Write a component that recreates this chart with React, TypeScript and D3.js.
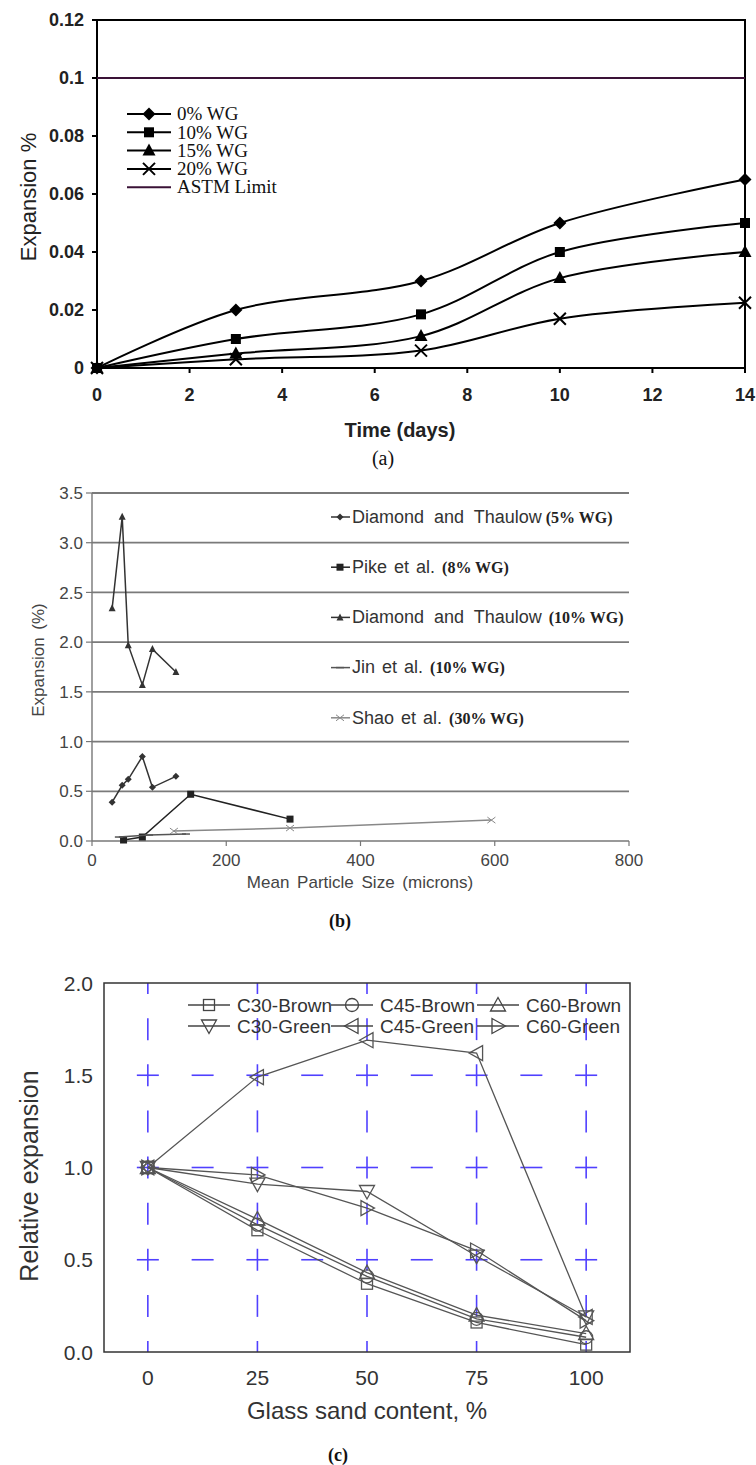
import React from 'react';
import * as d3 from 'd3';

// ---------- Panel (a) data ----------
const daysA = [0, 3, 7, 10, 14];
const wg0 = [0, 0.02, 0.03, 0.05, 0.065];
const wg10 = [0, 0.01, 0.0185, 0.04, 0.05];
const wg15 = [0, 0.005, 0.011, 0.031, 0.04];
const wg20 = [0, 0.003, 0.006, 0.017, 0.0225];
const astmLimit = 0.1;
const namesA = ['0% WG', '10% WG', '15% WG', '20% WG', 'ASTM Limit'];
const markersA = ['diamond', 'square', 'triangle', 'x', 'none'];
const xTicksA = [0, 2, 4, 6, 8, 10, 12, 14];
const yTicksA = [0, 0.02, 0.04, 0.06, 0.08, 0.1, 0.12];
const yTickLabelsA = ['0', '0.02', '0.04', '0.06', '0.08', '0.1', '0.12'];

// ---------- Panel (b) data ----------
const dt5X = [30, 45, 54, 75, 90, 125];
const dt5Y = [0.39, 0.56, 0.62, 0.85, 0.54, 0.65];
const pikeX = [47, 75, 147, 295];
const pikeY = [0.01, 0.04, 0.47, 0.22];
const dt10X = [30, 45, 54, 75, 90, 125];
const dt10Y = [2.34, 3.26, 1.97, 1.57, 1.93, 1.7];
const jinX = [40, 85, 140];
const jinY = [0.04, 0.06, 0.07];
const shaoX = [122, 295, 595];
const shaoY = [0.1, 0.13, 0.21];
const namesB = ['Diamond and Thaulow', 'Pike et al.', 'Diamond and Thaulow', 'Jin et al.', 'Shao et al.'];
const notesB = ['(5% WG)', '(8% WG)', '(10% WG)', '(10% WG)', '(30% WG)'];
const markersB = ['sdiamond', 'ssquare', 'striangle', 'dash', 'plus'];
const xTicksB = [0, 200, 400, 600, 800];
const yTicksB = [0, 0.5, 1, 1.5, 2, 2.5, 3, 3.5];

// ---------- Panel (c) data ----------
const glassX = [0, 25, 50, 75, 100];
const c30Brown = [1.0, 0.66, 0.37, 0.16, 0.04];
const c45Brown = [1.0, 0.69, 0.41, 0.18, 0.08];
const c60Brown = [1.0, 0.72, 0.43, 0.2, 0.1];
const c30Green = [1.0, 0.91, 0.87, 0.52, 0.19];
const c45Green = [1.0, 1.49, 1.69, 1.62, 0.19];
const c60Green = [1.0, 0.96, 0.78, 0.55, 0.17];
const namesC = ['C30-Brown', 'C45-Brown', 'C60-Brown', 'C30-Green', 'C45-Green', 'C60-Green'];
const markersC = ['osquare', 'ocircle', 'otriangle', 'odown', 'oleft', 'oright'];
const xTicksC = [0, 25, 50, 75, 100];
const yTicksC = [0, 0.5, 1, 1.5, 2];

const SANS = 'Liberation Sans, Arial, sans-serif';
const SERIF = 'Liberation Serif, Times New Roman, serif';

function Marker({ type, x, y, color = '#000' }: { type: string; x: number; y: number; color?: string }) {
  switch (type) {
    case 'diamond': {
      const s = 6.5;
      return <path d={`M${x},${y - s}L${x + s},${y}L${x},${y + s}L${x - s},${y}Z`} fill={color} />;
    }
    case 'square':
      return <rect x={x - 5} y={y - 5} width={10} height={10} fill={color} />;
    case 'triangle':
      return <path d={`M${x},${y - 7}L${x + 6.5},${y + 5}L${x - 6.5},${y + 5}Z`} fill={color} />;
    case 'x':
      return <path d={`M${x - 6},${y - 6}L${x + 6},${y + 6}M${x - 6},${y + 6}L${x + 6},${y - 6}`} stroke={color} strokeWidth={2} />;
    case 'sdiamond': {
      const s = 3.5;
      return <path d={`M${x},${y - s}L${x + s},${y}L${x},${y + s}L${x - s},${y}Z`} fill={color} />;
    }
    case 'ssquare':
      return <rect x={x - 3.5} y={y - 3.5} width={7} height={7} fill={color} />;
    case 'striangle':
      return <path d={`M${x},${y - 4}L${x + 3.5},${y + 3}L${x - 3.5},${y + 3}Z`} fill={color} />;
    case 'dash':
      return <path d={`M${x - 4},${y}L${x + 4},${y}`} stroke={color} strokeWidth={1.5} />;
    case 'plus':
      return <path d={`M${x - 4},${y - 3}L${x + 4},${y + 3}M${x - 4},${y + 3}L${x + 4},${y - 3}`} stroke={color} strokeWidth={1} />;
    case 'osquare':
      return <rect x={x - 5.5} y={y - 5.5} width={11} height={11} fill="none" stroke={color} strokeWidth={1.3} />;
    case 'ocircle':
      return <circle cx={x} cy={y} r={6.5} fill="none" stroke={color} strokeWidth={1.3} />;
    case 'otriangle':
      return <path d={`M${x},${y - 7.5}L${x + 7.5},${y + 6}L${x - 7.5},${y + 6}Z`} fill="none" stroke={color} strokeWidth={1.3} />;
    case 'odown':
      return <path d={`M${x},${y + 7.5}L${x + 7.5},${y - 6}L${x - 7.5},${y - 6}Z`} fill="none" stroke={color} strokeWidth={1.3} />;
    case 'oleft':
      return <path d={`M${x - 7.5},${y}L${x + 6},${y - 7.5}L${x + 6},${y + 7.5}Z`} fill="none" stroke={color} strokeWidth={1.3} />;
    case 'oright':
      return <path d={`M${x + 7.5},${y}L${x - 6},${y - 7.5}L${x - 6},${y + 7.5}Z`} fill="none" stroke={color} strokeWidth={1.3} />;
    default:
      return null;
  }
}

function PanelA() {
  const x = d3.scaleLinear().domain([0, 14]).range([97, 745]);
  const y = d3.scaleLinear().domain([0, 0.12]).range([368, 20]);
  const series = [wg0, wg10, wg15, wg20];
  const line = d3
    .line<[number, number]>()
    .x((d) => x(d[0]))
    .y((d) => y(d[1]))
    .curve(d3.curveCatmullRom.alpha(0.5));
  const x0 = x(0), x1 = x(14), y0 = y(0), y1 = y(0.12);
  return (
    <g>
      <rect x={x0} y={y1} width={x1 - x0} height={y0 - y1} fill="none" stroke="#000" strokeWidth={2} />
      <line x1={x0} x2={x1} y1={y(astmLimit)} y2={y(astmLimit)} stroke="#3a1236" strokeWidth={2} />
      {yTicksA.map((t, i) => (
        <g key={'ya' + i}>
          <line x1={x0 - 5} x2={x0} y1={y(t)} y2={y(t)} stroke="#000" strokeWidth={2} />
          <text x={84} y={y(t)} dy="0.36em" textAnchor="end" fontFamily={SANS} fontWeight="bold" fontSize={18} fill="#222">
            {yTickLabelsA[i]}
          </text>
        </g>
      ))}
      {xTicksA.map((t) => (
        <g key={'xa' + t}>
          <line x1={x(t)} x2={x(t)} y1={y0} y2={y0 + 5} stroke="#000" strokeWidth={2} />
          <text x={x(t)} y={395} dy="0.36em" textAnchor="middle" fontFamily={SANS} fontWeight="bold" fontSize={18} fill="#222">
            {t}
          </text>
        </g>
      ))}
      {series.map((s, i) => (
        <g key={'sa' + i}>
          <path d={line(daysA.map((d, j) => [d, s[j]] as [number, number])) || ''} fill="none" stroke="#000" strokeWidth={2} />
          {daysA.map((d, j) => (
            <Marker key={j} type={markersA[i]} x={x(d)} y={y(s[j])} />
          ))}
        </g>
      ))}
      {namesA.map((n, i) => {
        const ly = 114 + i * 18.3;
        return (
          <g key={'la' + i}>
            <line x1={127} x2={171} y1={ly} y2={ly} stroke={i === 4 ? '#3a1236' : '#000'} strokeWidth={2} />
            <Marker type={markersA[i]} x={149} y={ly} />
            <text x={177} y={ly} dy="0.33em" fontFamily={SERIF} fontSize={19} fill="#111">
              {n}
            </text>
          </g>
        );
      })}
      <text x={400} y={430} dy="0.35em" textAnchor="middle" fontFamily={SANS} fontWeight="bold" fontSize={20} fill="#222">
        Time (days)
      </text>
      <text x={383} y={458} dy="0.35em" textAnchor="middle" fontFamily={SERIF} fontSize={20} fill="#111">
        (a)
      </text>
      <text transform="translate(28,197) rotate(-90)" dy="0.35em" textAnchor="middle" fontFamily={SANS} fontSize={22} fill="#222">
        Expansion %
      </text>
    </g>
  );
}

function PanelB() {
  const x = d3.scaleLinear().domain([0, 800]).range([92, 629]);
  const y = d3.scaleLinear().domain([0, 3.5]).range([841, 493]);
  const line = d3
    .line<[number, number]>()
    .x((d) => x(d[0]))
    .y((d) => y(d[1]));
  const data = [
    [dt5X, dt5Y],
    [pikeX, pikeY],
    [dt10X, dt10Y],
    [jinX, jinY],
    [shaoX, shaoY],
  ];
  const colors = ['#333', '#222', '#333', '#555', '#888'];
  return (
    <g>
      {yTicksB.map((t) => (
        <g key={'yb' + t}>
          {t > 0 && <line x1={x(0)} x2={x(800)} y1={y(t)} y2={y(t)} stroke="#7a7a7a" strokeWidth={1.8} />}
          <line x1={x(0) - 6} x2={x(0)} y1={y(t)} y2={y(t)} stroke="#777" strokeWidth={1.2} />
          <text x={83} y={y(t)} dy="0.36em" textAnchor="end" fontFamily={SANS} fontSize={17} fill="#444">
            {t.toFixed(1)}
          </text>
        </g>
      ))}
      <line x1={x(0)} x2={x(0)} y1={y(0)} y2={y(3.5)} stroke="#777" strokeWidth={1.4} />
      <line x1={x(0)} x2={x(800)} y1={y(0)} y2={y(0)} stroke="#777" strokeWidth={1.4} />
      {xTicksB.map((t) => (
        <g key={'xb' + t}>
          <line x1={x(t)} x2={x(t)} y1={y(0)} y2={y(0) + 5} stroke="#777" strokeWidth={1.2} />
          <text x={x(t)} y={860} dy="0.36em" textAnchor="middle" fontFamily={SANS} fontSize={17} fill="#444">
            {t}
          </text>
        </g>
      ))}
      {data.map(([xs, ys], i) => (
        <g key={'sb' + i}>
          <path d={line(xs.map((v, j) => [v, ys[j]] as [number, number])) || ''} fill="none" stroke={colors[i]} strokeWidth={1.5} />
          {xs.map((v, j) => (
            <Marker key={j} type={markersB[i]} x={x(v)} y={y(ys[j])} color={colors[i]} />
          ))}
        </g>
      ))}
      {namesB.map((n, i) => {
        const ly = 517 + i * 50.2;
        return (
          <g key={'lb' + i}>
            <line x1={331} x2={350} y1={ly} y2={ly} stroke={colors[i]} strokeWidth={1.5} />
            <Marker type={markersB[i]} x={340} y={ly} color={colors[i]} />
            <text x={352} y={ly} dy="0.36em" fill="#333">
              <tspan fontFamily={SANS} fontSize={18} wordSpacing={i === 0 || i === 2 ? 5 : 2}>
                {n}
              </tspan>
              <tspan dx={i === 0 ? 4 : 7} fontFamily={SERIF} fontWeight="bold" fontSize={16} fill="#222">
                {notesB[i]}
              </tspan>
            </text>
          </g>
        );
      })}
      <text x={360} y={882} dy="0.36em" textAnchor="middle" fontFamily={SANS} fontSize={17} fill="#444" wordSpacing={3}>
        Mean Particle Size (microns)
      </text>
      <text x={340} y={921} dy="0.35em" textAnchor="middle" fontFamily={SERIF} fontWeight="bold" fontSize={18} fill="#111">
        (b)
      </text>
      <text transform="translate(38,660) rotate(-90)" dy="0.35em" textAnchor="middle" fontFamily={SANS} fontSize={17} fill="#444" wordSpacing={3}>
        Expansion (%)
      </text>
    </g>
  );
}

function PanelC() {
  const x = d3.scaleLinear().domain([-10, 110]).range([104, 630]);
  const y = d3.scaleLinear().domain([0, 2]).range([1352, 983]);
  const line = d3
    .line<[number, number]>()
    .x((d) => x(d[0]))
    .y((d) => y(d[1]));
  const series = [c30Brown, c45Brown, c60Brown, c30Green, c45Green, c60Green];
  const blue = '#5040ff';
  const dashLen = 22;
  const left = x(-10), right = x(110), top = y(2), bottom = y(0);
  const hDashCenters = d3.range(-12.5, 125, 12.5);
  const vDashCenters = d3.range(0, 2.01, 0.25);
  const clampX = (v: number) => Math.max(left, Math.min(right, v));
  const clampY = (v: number) => Math.max(top, Math.min(bottom, v));
  const legendX = [209, 352, 498];
  const legendY = [1005, 1026];
  return (
    <g>
      {[0.5, 1, 1.5].map((g) =>
        hDashCenters.map((c, k) => {
          const a = clampX(x(c) - dashLen / 2), b = clampX(x(c) + dashLen / 2);
          return b > a ? <line key={'h' + g + '-' + k} x1={a} x2={b} y1={y(g)} y2={y(g)} stroke={blue} strokeWidth={1.6} /> : null;
        })
      )}
      {xTicksC.map((g) =>
        vDashCenters.map((c, k) => {
          const a = clampY(y(c) - dashLen / 2), b = clampY(y(c) + dashLen / 2);
          return b > a ? <line key={'v' + g + '-' + k} x1={x(g)} x2={x(g)} y1={a} y2={b} stroke={blue} strokeWidth={1.6} /> : null;
        })
      )}
      <rect x={left} y={top} width={right - left} height={bottom - top} fill="none" stroke="#333" strokeWidth={1.5} />
      {yTicksC.map((t) => (
        <text key={'yc' + t} x={93} y={y(t)} dy="0.36em" textAnchor="end" fontFamily={SANS} fontSize={21} fill="#333">
          {t.toFixed(1)}
        </text>
      ))}
      {xTicksC.map((t) => (
        <text key={'xc' + t} x={x(t)} y={1377} dy="0.36em" textAnchor="middle" fontFamily={SANS} fontSize={21} fill="#333">
          {t}
        </text>
      ))}
      {series.map((s, i) => (
        <g key={'sc' + i}>
          <path d={line(glassX.map((v, j) => [v, s[j]] as [number, number])) || ''} fill="none" stroke="#555" strokeWidth={1.3} />
          {glassX.map((v, j) => (
            <Marker key={j} type={markersC[i]} x={x(v)} y={y(s[j])} color="#555" />
          ))}
        </g>
      ))}
      {namesC.map((n, i) => {
        const lx = legendX[i % 3], ly = legendY[Math.floor(i / 3)];
        return (
          <g key={'lc' + i}>
            <line x1={lx - 21} x2={lx + 21} y1={ly} y2={ly} stroke="#444" strokeWidth={1.3} />
            <Marker type={markersC[i]} x={lx} y={ly} color="#444" />
            <text x={lx + 28} y={ly} dy="0.36em" fontFamily={SANS} fontSize={19} fill="#333">
              {n}
            </text>
          </g>
        );
      })}
      <text x={367} y={1410} dy="0.36em" textAnchor="middle" fontFamily={SANS} fontSize={24} fill="#333">
        Glass sand content, %
      </text>
      <text x={338} y={1455} dy="0.35em" textAnchor="middle" fontFamily={SERIF} fontWeight="bold" fontSize={18} fill="#111">
        (c)
      </text>
      <text transform="translate(29,1176) rotate(-90)" dy="0.35em" textAnchor="middle" fontFamily={SANS} fontSize={25} fill="#333">
        Relative expansion
      </text>
    </g>
  );
}

export default function App() {
  return (
    <svg
      width={756}
      height={1465}
      viewBox="0 0 756 1465"
      style={{ position: 'absolute', left: 0, top: 0, background: '#fff' }}
    >
      <rect x={0} y={0} width={756} height={1465} fill="#fff" />
      <PanelA />
      <PanelB />
      <PanelC />
    </svg>
  );
}
